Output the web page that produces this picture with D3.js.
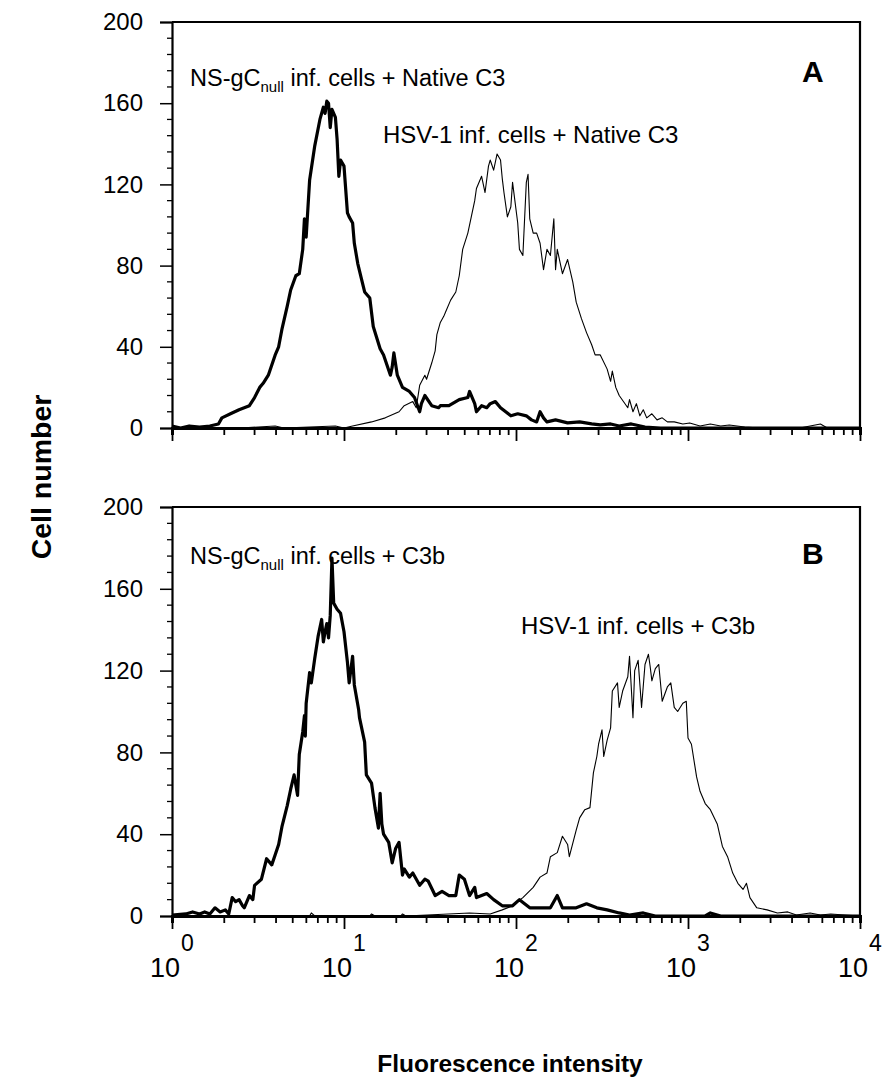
<!DOCTYPE html>
<html>
<head>
<meta charset="utf-8">
<script src="https://cdn.jsdelivr.net/npm/d3@7"></script>
<style>
  body { margin: 0; background: #fff; }
  svg { font-family: "Liberation Sans", Arial, Helvetica, sans-serif; }
</style>
</head>
<body>
<div id="main-chart"></div>
<script>
// [log10 fluorescence, cell count]
var nsNative = [
  [0.00, 1], [0.05, 0], [0.10, 1], [0.16, 0.5], [0.22, 1], [0.27, 2], [0.29, 5], [0.34, 7],
  [0.39, 9], [0.45, 11], [0.48, 15], [0.51, 20], [0.53, 22], [0.56, 26], [0.60, 36], [0.62, 40],
  [0.64, 49], [0.67, 60], [0.69, 68], [0.72, 75], [0.74, 76], [0.76, 88], [0.77, 103], [0.78, 94],
  [0.80, 122], [0.83, 139], [0.86, 152], [0.88, 158], [0.89, 155], [0.90, 161], [0.91, 160],
  [0.92, 148], [0.93, 157], [0.95, 153], [0.96, 142], [0.97, 124], [0.98, 132], [1.00, 129],
  [1.02, 106], [1.03, 104], [1.05, 101], [1.06, 91], [1.08, 81], [1.10, 74], [1.12, 67],
  [1.15, 64], [1.17, 50], [1.21, 39], [1.23, 36], [1.27, 26], [1.28, 30], [1.29, 37], [1.31, 26],
  [1.34, 20], [1.38, 18], [1.41, 15], [1.44, 8], [1.45, 12], [1.47, 16], [1.51, 11], [1.55, 10],
  [1.56, 11], [1.61, 11], [1.65, 13], [1.67, 14], [1.72, 15], [1.73, 18], [1.76, 12], [1.77, 8],
  [1.80, 11], [1.83, 10], [1.85, 12], [1.88, 13], [1.91, 10], [1.94, 8], [1.97, 6], [2.01, 7],
  [2.06, 6], [2.09, 4], [2.12, 3], [2.14, 8], [2.16, 5], [2.18, 3], [2.23, 4], [2.30, 2.5],
  [2.37, 3], [2.44, 2], [2.49, 1.5], [2.55, 2], [2.60, 1], [2.67, 2], [2.75, 0.5], [2.84, 0],
  [4.00, 0]
];

var hsvNative = [
  [0.00, 0], [0.40, 0], [0.60, 1], [0.65, 0], [0.95, 1], [1.00, 0], [1.05, 1], [1.16, 3],
  [1.24, 5], [1.32, 8], [1.35, 11], [1.40, 13], [1.42, 10], [1.44, 21], [1.47, 26], [1.48, 24],
  [1.51, 32], [1.53, 38], [1.54, 46], [1.56, 52], [1.58, 55], [1.59, 57], [1.62, 63], [1.65, 67],
  [1.67, 75], [1.69, 88], [1.72, 96], [1.74, 104], [1.76, 112], [1.77, 118], [1.80, 124],
  [1.82, 116], [1.84, 129], [1.85, 132], [1.87, 127], [1.89, 135], [1.91, 132], [1.92, 123],
  [1.93, 116], [1.95, 104], [1.97, 109], [1.98, 121], [2.01, 101], [2.02, 88], [2.04, 85],
  [2.06, 121], [2.07, 125], [2.08, 103], [2.10, 96], [2.12, 96], [2.14, 91], [2.16, 78],
  [2.18, 88], [2.20, 85], [2.22, 103], [2.23, 78], [2.24, 88], [2.27, 76], [2.30, 83], [2.33, 72],
  [2.35, 62], [2.38, 54], [2.41, 47], [2.44, 41], [2.46, 36], [2.49, 36], [2.53, 29], [2.55, 23],
  [2.56, 28], [2.58, 20], [2.60, 16], [2.65, 10], [2.66, 14], [2.68, 8], [2.70, 12], [2.72, 6],
  [2.74, 9], [2.76, 5], [2.79, 7], [2.82, 4], [2.85, 5], [2.88, 3], [2.92, 3], [2.97, 2],
  [3.01, 2.5], [3.07, 1], [3.13, 2], [3.19, 1], [3.24, 1.5], [3.33, 0.5], [3.42, 0], [3.65, 0],
  [3.77, 2], [3.81, 0], [4.00, 0]
];

var nsC3b = [
  [0.00, 0.5], [0.08, 1], [0.12, 2], [0.16, 1], [0.19, 2], [0.22, 1], [0.25, 4], [0.28, 2],
  [0.31, 3], [0.33, 1], [0.35, 9], [0.37, 7], [0.39, 8], [0.41, 5], [0.42, 4], [0.45, 10],
  [0.47, 8], [0.48, 15], [0.52, 18], [0.55, 28], [0.58, 25], [0.60, 30], [0.62, 35], [0.64, 44],
  [0.67, 54], [0.69, 62], [0.71, 69], [0.73, 59], [0.74, 79], [0.76, 90], [0.77, 98], [0.775, 88],
  [0.78, 104], [0.80, 119], [0.81, 114], [0.83, 126], [0.85, 137], [0.87, 145], [0.88, 134],
  [0.89, 139], [0.90, 143], [0.91, 136], [0.92, 147], [0.93, 175], [0.94, 153], [0.96, 150],
  [0.98, 148], [1.00, 139], [1.02, 124], [1.03, 114], [1.05, 127], [1.06, 113], [1.085, 101],
  [1.09, 97], [1.12, 85], [1.13, 69], [1.16, 65], [1.18, 53], [1.20, 43], [1.21, 60], [1.22, 45],
  [1.23, 40], [1.26, 36], [1.28, 26], [1.30, 33], [1.32, 36], [1.34, 20], [1.35, 23], [1.38, 19],
  [1.40, 21], [1.44, 15], [1.47, 18], [1.49, 17], [1.53, 10], [1.57, 12], [1.61, 10], [1.65, 10],
  [1.67, 20], [1.70, 18], [1.73, 10], [1.76, 14], [1.77, 9], [1.83, 11], [1.87, 8], [1.92, 5],
  [1.98, 5], [2.02, 8], [2.08, 4], [2.14, 4], [2.20, 4], [2.24, 10], [2.27, 4], [2.35, 4],
  [2.41, 6], [2.47, 4], [2.53, 3], [2.60, 1.5], [2.66, 0.5], [2.74, 1.5], [2.81, 0], [3.10, 0],
  [3.13, 1.5], [3.19, 0], [4.00, 0]
];

var hsvC3b = [
  [0.00, 0], [0.80, 0], [0.81, 1.5], [0.83, 0], [1.15, 0], [1.16, 1], [1.18, 0], [1.33, 0],
  [1.34, 1], [1.36, 0], [1.73, 1.5], [1.85, 1], [1.92, 3], [1.98, 5], [2.04, 9], [2.10, 14],
  [2.14, 19], [2.18, 21], [2.20, 29], [2.24, 31], [2.27, 39], [2.30, 35], [2.31, 29], [2.35, 42],
  [2.37, 48], [2.40, 52], [2.43, 53], [2.45, 70], [2.47, 78], [2.48, 84], [2.50, 91], [2.51, 78],
  [2.53, 86], [2.55, 92], [2.56, 110], [2.59, 114], [2.60, 102], [2.62, 110], [2.65, 117],
  [2.66, 127], [2.68, 97], [2.69, 120], [2.71, 125], [2.73, 102], [2.75, 123], [2.77, 128],
  [2.78, 122], [2.79, 115], [2.81, 121], [2.83, 123], [2.85, 105], [2.88, 112], [2.90, 114],
  [2.92, 102], [2.94, 100], [2.97, 104], [2.99, 105], [3.00, 87], [3.02, 84], [3.05, 68],
  [3.07, 61], [3.10, 55], [3.13, 52], [3.17, 45], [3.20, 34], [3.23, 29], [3.26, 21], [3.29, 16],
  [3.32, 13], [3.34, 16], [3.36, 9], [3.40, 4], [3.46, 3], [3.52, 1.5], [3.58, 2], [3.63, 0.5],
  [3.71, 1.5], [3.77, 0.5], [3.83, 1], [3.91, 0.5], [4.00, 0]
];

var yTicks = [0, 40, 80, 120, 160, 200];
var xExponents = [0, 1, 2, 3, 4];

var panels = [
  { letter: "A", top: 22, bottom: 428, thick: nsNative, thin: hsvNative,
    thickLabel: ["NS-gC", "null", " inf. cells + Native C3"], thickPos: [190, 86],
    thinLabel: "HSV-1 inf. cells + Native C3", thinPos: [383, 143], letterPos: [802, 82] },
  { letter: "B", top: 507, bottom: 916, thick: nsC3b, thin: hsvC3b,
    thickLabel: ["NS-gC", "null", " inf. cells + C3b"], thickPos: [190, 564],
    thinLabel: "HSV-1 inf. cells + C3b", thinPos: [521, 634], letterPos: [802, 564] }
];

var left = 172, right = 860;
var svg = d3.select("#main-chart").append("svg").attr("width", 889).attr("height", 1078);

var x = d3.scaleLog().domain([1, 10000]).range([left, right]);

function drawPanel(p) {
  var y = d3.scaleLinear().domain([0, 200]).range([p.bottom, p.top]);
  var g = svg.append("g");

  var line = d3.line()
    .x(function(d) { return x(Math.pow(10, d[0])); })
    .y(function(d) { return y(d[1]); });

  g.append("path").datum(p.thin)
    .attr("d", line)
    .attr("fill", "none").attr("stroke", "#000")
    .attr("stroke-width", 1.1).attr("stroke-linejoin", "round");

  g.append("path").datum(p.thick)
    .attr("d", line)
    .attr("fill", "none").attr("stroke", "#000")
    .attr("stroke-width", 3.2).attr("stroke-linejoin", "round");

  // frame
  g.append("path")
    .attr("d", "M" + left + "," + p.top + "H" + right + "V" + p.bottom)
    .attr("fill", "none").attr("stroke", "#000").attr("stroke-width", 2.2);

  // y axis
  var yAxis = d3.axisLeft(y).tickValues(yTicks).tickSize(12).tickPadding(17);
  var ya = g.append("g").attr("transform", "translate(" + left + ",0)").call(yAxis);
  ya.select(".domain").attr("stroke-width", 2.2);
  ya.selectAll(".tick line").attr("stroke-width", 1.5);
  ya.selectAll("text").attr("font-size", 24).attr("fill", "#000")
    .attr("font-family", "Liberation Sans, Arial, sans-serif");
  var yMinor = d3.range(0, 201, 8).filter(function(v) { return v % 40 !== 0; });
  g.selectAll("line.ymin").data(yMinor).enter().append("line")
    .attr("x1", left - 5).attr("x2", left)
    .attr("y1", function(d) { return y(d); }).attr("y2", function(d) { return y(d); })
    .attr("stroke", "#000").attr("stroke-width", 1.3);

  // x axis
  var xAxis = d3.axisBottom(x).tickValues(x.ticks()).tickFormat("").tickSize(7);
  var xa = g.append("g").attr("transform", "translate(0," + p.bottom + ")").call(xAxis);
  xa.select(".domain").attr("stroke-width", 3);
  xa.selectAll(".tick line")
    .attr("stroke-width", 1.8)
    .attr("y2", function(d) { return Math.abs(Math.log10(d) % 1) < 1e-6 ? 13 : 7; });

  // curve labels
  var t = g.append("text")
    .attr("x", p.thickPos[0]).attr("y", p.thickPos[1])
    .attr("font-size", 23.5);
  t.append("tspan").text(p.thickLabel[0]);
  t.append("tspan").text(p.thickLabel[1]).attr("font-size", 15).attr("dy", 6);
  t.append("tspan").text(p.thickLabel[2]).attr("dy", -6);

  g.append("text")
    .attr("x", p.thinPos[0]).attr("y", p.thinPos[1])
    .attr("font-size", 24).text(p.thinLabel);

  g.append("text")
    .attr("x", p.letterPos[0]).attr("y", p.letterPos[1])
    .attr("font-size", 30).attr("font-weight", "bold").text(p.letter);
}

panels.forEach(drawPanel);

// x tick labels (10 with exponent), under the lower panel only
var xl = svg.append("g");
xExponents.forEach(function(e) {
  var px = x(Math.pow(10, e));
  xl.append("text").attr("x", px + 8).attr("y", 977)
    .attr("text-anchor", "end").attr("font-size", 27).text("10");
  xl.append("text").attr("x", px + 9).attr("y", 951)
    .attr("font-size", 23).text(e);
});

svg.append("text")
  .attr("transform", "translate(51,477) rotate(-90)")
  .attr("text-anchor", "middle")
  .attr("font-size", 28.5).attr("font-weight", "bold")
  .text("Cell number");

svg.append("text")
  .attr("x", 510).attr("y", 1072)
  .attr("text-anchor", "middle")
  .attr("font-size", 24.5).attr("font-weight", "bold")
  .text("Fluorescence intensity");
</script>
</body>
</html>
